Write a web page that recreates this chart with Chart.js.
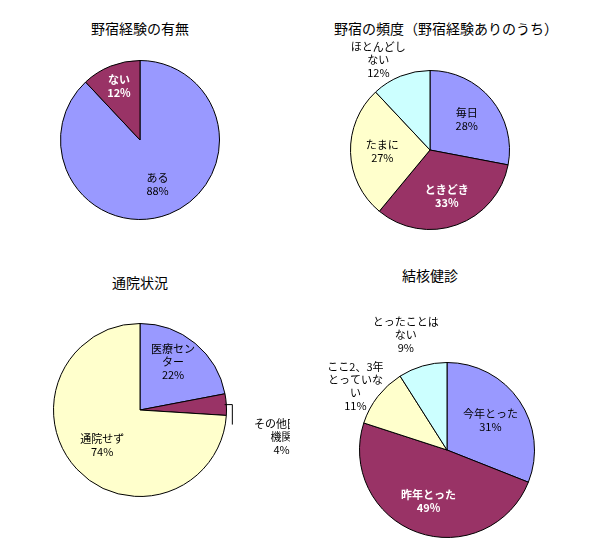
<!DOCTYPE html>
<html><head><meta charset="utf-8">
<script src="https://cdn.jsdelivr.net/npm/chart.js@4"></script>
<style>
body{margin:0;background:#fff;width:600px;height:558px;position:relative;overflow:hidden;font-family:"Noto Sans CJK JP",sans-serif}
.t{position:absolute;font-size:14px;transform:translateX(-50%);white-space:nowrap}
canvas{position:absolute}
</style></head><body>
<div class="t" style="left:140px;top:18px">野宿経験の有無</div>
<div class="t" style="left:446px;top:18px">野宿の頻度（野宿経験ありのうち）</div>
<div class="t" style="left:140px;top:272px">通院状況</div>
<div class="t" style="left:430px;top:265px">結核健診</div>
<canvas id="c1"></canvas><canvas id="c2"></canvas><canvas id="c3"></canvas><canvas id="c4"></canvas>
<script>
const expLabels = [["ある"], ["ない"]];
const expValues = [88, 12];
const freqLabels = [["毎日"], ["ときどき"], ["たまに"], ["ほとんどし", "ない"]];
const freqValues = [28, 33, 27, 12];
const visitLabels = [["医療セン", "ター"], ["その他医療", "機関"], ["通院せず"]];
const visitValues = [22, 4, 74];
const tbLabels = [["今年とった"], ["昨年とった"], ["ここ2、3年", "とっていな", "い"], ["とったことは", "ない"]];
const tbValues = [31, 49, 11, 9];

const BLUE = "#9999ff", PURPLE = "#993366", YELLOW = "#ffffcc", CYAN = "#ccffff";

const labelPlugin = {
  id: "sliceLabels",
  afterDraw(chart) {
    const o = chart.options.plugins.sliceLabels;
    const ctx = chart.ctx;
    const meta = chart.getDatasetMeta(0);
    const vals = chart.data.datasets[0].data;
    meta.data.forEach((arc, i) => {
      const mid = (arc.startAngle + arc.endAngle) / 2;
      const f = o.radius[i];
      let x = arc.x + Math.cos(mid) * arc.outerRadius * f;
      let y = arc.y + Math.sin(mid) * arc.outerRadius * f;
      if (o.offset && o.offset[i]) { x += o.offset[i][0]; y += o.offset[i][1]; }
      const lines = chart.data.labels[i].concat([vals[i] + "%"]);
      const white = o.white[i];
      ctx.save();
      ctx.font = (white ? "bold " : "") + "11px 'Noto Sans CJK JP'";
      ctx.fillStyle = white ? "#fff" : "#000";
      ctx.textAlign = "center";
      ctx.textBaseline = "middle";
      const lh = 13;
      lines.forEach((l, k) => ctx.fillText(l, x, y + (k - (lines.length - 1) / 2) * lh));
      if (o.leader && o.leader[i]) {
        const L = o.leader[i];
        ctx.strokeStyle = "#000"; ctx.lineWidth = 1;
        ctx.beginPath();
        ctx.moveTo(arc.x + Math.cos(mid) * arc.outerRadius * 0.98, arc.y + Math.sin(mid) * arc.outerRadius * 0.98);
        ctx.lineTo(arc.x + Math.cos(mid) * arc.outerRadius + L[0], arc.y + Math.sin(mid) * arc.outerRadius + L[1]);
        ctx.lineTo(arc.x + Math.cos(mid) * arc.outerRadius + L[2], arc.y + Math.sin(mid) * arc.outerRadius + L[3]);
        ctx.stroke();
      }
      ctx.restore();
    });
  }
};

function pie(id, cx, cy, r, labels, values, colors, lab) {
  const size = 300, pad = size / 2 - r;
  const c = document.getElementById(id);
  c.width = size; c.height = size;
  c.style.left = (cx - size / 2) + "px"; c.style.top = (cy - size / 2) + "px";
  new Chart(c, {
    type: "pie",
    data: { labels, datasets: [{ data: values, backgroundColor: colors, borderColor: "#000", borderWidth: 1 }] },
    options: {
      responsive: false, animation: false,
      layout: { padding: pad },
      plugins: { legend: { display: false }, tooltip: { enabled: false }, sliceLabels: lab }
    },
    plugins: [labelPlugin]
  });
}

pie("c1", 140, 140, 80, expLabels, expValues, [BLUE, PURPLE],
  { radius: [0.6, 0.72], white: [false, true] });
pie("c2", 430, 150, 80, freqLabels, freqValues, [BLUE, PURPLE, YELLOW, CYAN],
  { radius: [0.6, 0.62, 0.6, 1.15], white: [false, true, false, false], offset: [[0,0],[0,0],[0,0],[-18,-5]] });
pie("c3", 140, 410, 87, visitLabels, visitValues, [BLUE, PURPLE, YELLOW],
  { radius: [0.6, 1.5, 0.6], white: [false, false, false], offset: [[0,-8],[12,35],[0,0]], leader: [null, [6,0,6,20], null] });
pie("c4", 447, 450, 88, tbLabels, tbValues, [BLUE, PURPLE, YELLOW, CYAN],
  { radius: [0.6, 0.62, 1.18, 1.28], white: [false, true, false, false], offset: [[0,0],[0,0],[-10,0],[-10,-8]] });
</script>
</body></html>
